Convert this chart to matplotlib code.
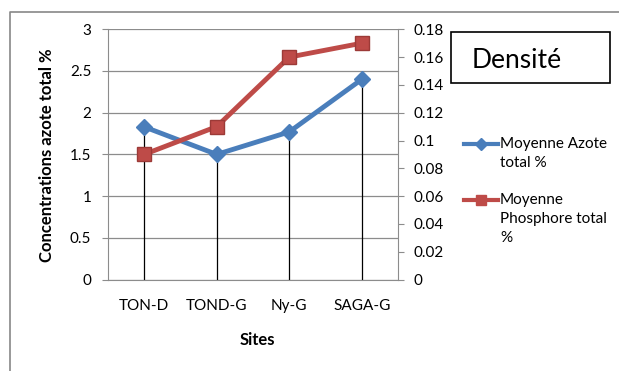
import matplotlib
matplotlib.use('Agg')
import matplotlib.pyplot as plt
from matplotlib.lines import Line2D
from matplotlib.patches import Rectangle
from matplotlib.ticker import MultipleLocator, FormatStrFormatter
import numpy as np

sites = ['TON-D', 'TOND-G', 'Ny-G', 'SAGA-G']
azote = [1.83, 1.50, 1.77, 2.40]        # primary axis
phosphore = [0.09, 0.11, 0.16, 0.17]    # secondary axis

blue = '#4A7EBB'
red = '#BE4B48'
grey = '#8c8c8c'

plt.rcParams['font.family'] = ['Lato', 'DejaVu Sans']

W, H = 619, 371
fig = plt.figure(figsize=(W / 100, H / 100), dpi=100)

def fx(px):
    return px / W

def fy(py):
    return 1 - py / H

# plot area
ax = fig.add_axes([fx(108), fy(279.5), fx(398) - fx(108), fy(29.3) - fy(279.5)])
ax2 = ax.twinx()

x = np.arange(len(sites))
ax.set_xlim(-0.5, len(sites) - 0.5)
ax.set_ylim(0, 3)
ax2.set_ylim(0, 0.18)

ax.yaxis.set_major_locator(MultipleLocator(0.5))
ax.yaxis.set_major_formatter(FormatStrFormatter('%g'))
ax2.yaxis.set_major_locator(MultipleLocator(0.02))
ax2.yaxis.set_major_formatter(FormatStrFormatter('%g'))

ax.yaxis.grid(True, color=grey, lw=0.9)
ax.set_axisbelow(True)

# drop lines from the primary series
ax.vlines(x, 0, azote, color='black', lw=0.9, zorder=2)

ax.plot(x, azote, color=blue, lw=3.5, marker='D', markersize=8,
        markerfacecolor=blue, markeredgecolor=blue, zorder=3)
ax2.plot(x, phosphore, color=red, lw=3.5, marker='s', markersize=10,
         markerfacecolor=red, markeredgecolor='#9c3a37', zorder=3)

ax.set_xticks(x)
ax.set_xticklabels(sites)

for s in ['top', 'right']:
    ax.spines[s].set_visible(False)
for s in ['top', 'left', 'bottom']:
    ax2.spines[s].set_visible(False)
ax.spines['left'].set_color(grey)
ax.spines['bottom'].set_color(grey)
ax2.spines['right'].set_color(grey)

ax.tick_params(axis='y', direction='out', length=4, color=grey, labelsize=11, pad=8)
ax.tick_params(axis='x', length=0, labelsize=11, pad=14)
ax2.tick_params(axis='y', direction='out', length=4, color=grey, labelsize=11, pad=7)

fig.text(fx(47), fy(155), 'Concentrations azote total %', rotation=90,
         ha='center', va='center', fontsize=12, fontweight='bold')
fig.text(fx(257), fy(340), 'Sites', ha='center', va='center',
         fontsize=12, fontweight='bold')

# title box
fig.patches.append(Rectangle((fx(451), fy(83)), fx(610) - fx(451), fy(32) - fy(83),
                             transform=fig.transFigure, fill=False,
                             edgecolor='black', lw=1.2))
fig.text(fx(472), fy(60), 'Densité', ha='left', va='center', fontsize=19)

# legend
def legend_item(py, color, marker, ms, lines):
    fig.add_artist(Line2D([fx(464), fx(481), fx(498)], [fy(py)] * 3,
                          transform=fig.transFigure, color=color, lw=3,
                          marker=marker, markersize=ms, markevery=[1],
                          markerfacecolor=color, markeredgecolor=color))
    for i, t in enumerate(lines):
        fig.text(fx(500), fy(py + 19 * i), t, ha='left', va='center', fontsize=11)

legend_item(144, blue, 'D', 6, ['Moyenne Azote', 'total %'])
legend_item(200, red, 's', 7, ['Moyenne', 'Phosphore total', '%'])

# chart frame
fig.add_artist(Line2D([fx(10), fx(10), fx(625)], [fy(380), fy(12), fy(12)],
                      transform=fig.transFigure, color='#888888', lw=1.2))

fig.savefig('out.png', dpi=100)
